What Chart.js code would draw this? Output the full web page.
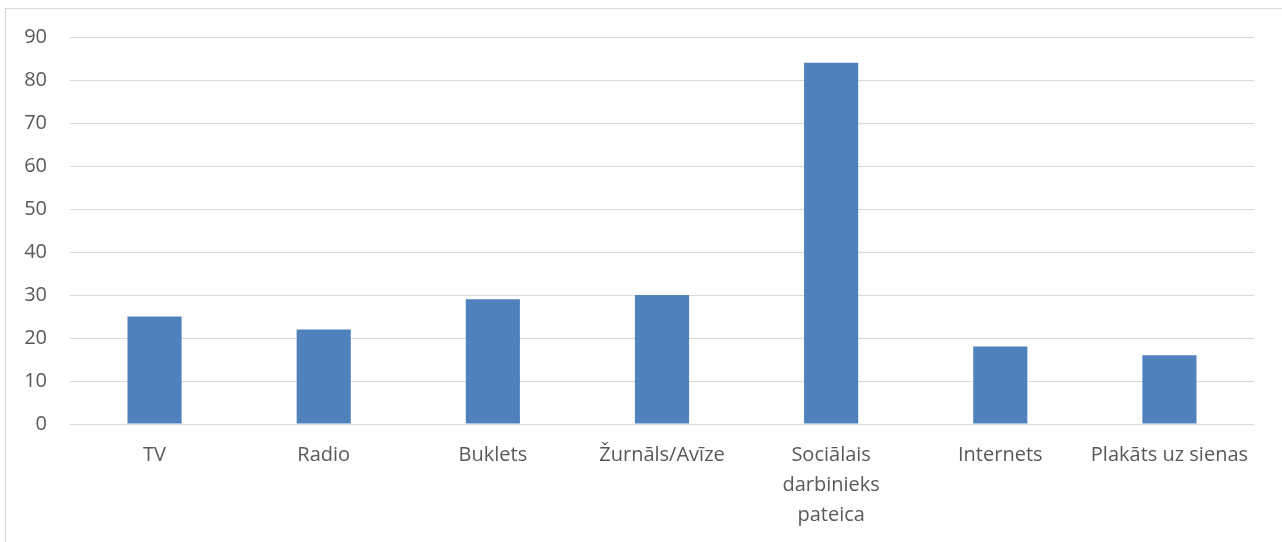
<!DOCTYPE html>
<html>
<head>
<meta charset="utf-8">
<script src="https://cdn.jsdelivr.net/npm/chart.js@4/dist/chart.umd.min.js"></script>
<style>
  html, body { margin: 0; padding: 0; background: #fff; }
  #frame { position: absolute; left: 5px; top: 8px; width: 1290px; height: 560px; border: 1px solid #d9d9d9; box-sizing: border-box; }
  #wrap { position: absolute; left: 0; top: 0; width: 1282px; height: 542px; }
</style>
</head>
<body>
<div id="frame"></div>
<div id="wrap"><canvas id="chart" width="1282" height="542"></canvas></div>
<script>
const categories = ['TV', 'Radio', 'Buklets', 'Žurnāls/Avīze', ['Sociālais', 'darbinieks', 'pateica'], 'Internets', 'Plakāts uz sienas'];
const values = [25, 22, 29, 30, 84, 18, 16];
const yTicks = [0, 10, 20, 30, 40, 50, 60, 70, 80, 90];

const ctx = document.getElementById('chart').getContext('2d');
new Chart(ctx, {
    type: 'bar',
    data: { labels: categories, datasets: [{ data: values, backgroundColor: '#4f81bd', borderWidth: 0, categoryPercentage: 1, barPercentage: 0.32 }] },
    options: {
        responsive: false, animation: false,
        layout: { padding: { left: 0, right: 28, top: 37, bottom: 0 } },
        plugins: { legend: { display: false }, tooltip: { enabled: false } },
        scales: {
            x: {
                grid: { display: false, drawTicks: false },
                border: { display: false },
                ticks: { color: '#595959', font: { family: 'Open Sans', size: 20, lineHeight: 1.5 }, padding: 16, maxRotation: 0, autoSkip: false },
                afterFit: s => { s.height = 118; }
            },
            y: {
                min: 0, max: 90,
                afterBuildTicks: s => { s.ticks = yTicks.map(v => ({ value: v })); },
                grid: { color: '#d9d9d9', lineWidth: 1, drawTicks: false },
                border: { display: false },
                ticks: { color: '#595959', font: { family: 'Open Sans', size: 20 }, padding: 23 },
                afterFit: s => { s.width = 70; }
            }
        }
    }
});
</script>
</body>
</html>
